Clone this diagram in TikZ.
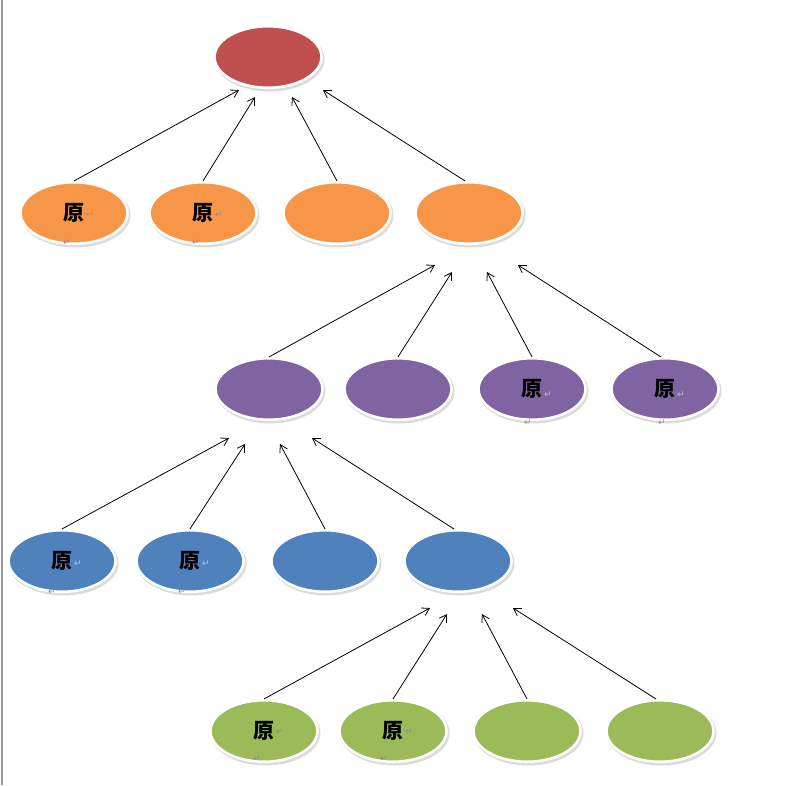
\documentclass[tikz,border=0pt]{standalone}
\usepackage{fontspec}
\newfontfamily\cjk{Noto Sans CJK SC}
\newfontfamily\symf{DejaVu Sans}
\usetikzlibrary{shapes.geometric,arrows.meta}
\definecolor{cred}{HTML}{C0504D}
\definecolor{corange}{HTML}{F79646}
\definecolor{cpurple}{HTML}{8064A2}
\definecolor{cblue}{HTML}{4F81BD}
\definecolor{cgreen}{HTML}{9BBB59}
\tikzset{
  oval/.style={ellipse, draw=white, line width=2.6pt, minimum width=107pt, minimum height=61.5pt, inner sep=0pt,
    font=\cjk\bfseries\fontsize{21}{21}\selectfont, text=black},
  shade/.style={ellipse, fill=black!14, minimum width=110pt, minimum height=65pt, inner sep=0pt, draw=none},
  ret/.style={font=\symf\fontsize{9}{9}\selectfont, text=black!45, inner sep=0pt},
  link/.style={-{Straight Barb[length=7pt,width=8.5pt]}, line width=0.8pt, black}
}
\begin{document}
\begin{tikzpicture}[x=1pt,y=-1pt]
\useasboundingbox (0,0) rectangle (797,785);
\fill[white] (0,0) rectangle (797,785);
\draw[black!40, line width=2pt] (1.5,0) -- (1.5,785);
% shadows
\foreach \x/\y in {268/57, 74/213,203/213,337/213,469/213, 269/389,398/389,532/389,665/389, 62/561,190/561,325/561,458/561, 264/731,393/731,527/731,660/731}
  \node[shade] at (\x+1.5,\y+2) {};
% ellipses
\node[oval, fill=cred] (r) at (268,57) {};
\node[oval, fill=corange] (o1) at (74,213) {原};
\node[oval, fill=corange] (o2) at (203,213) {原};
\node[oval, fill=corange] (o3) at (337,213) {};
\node[oval, fill=corange] (o4) at (469,213) {};
\node[oval, fill=cpurple] (p1) at (269,389) {};
\node[oval, fill=cpurple] (p2) at (398,389) {};
\node[oval, fill=cpurple] (p3) at (532,389) {原};
\node[oval, fill=cpurple] (p4) at (665,389) {原};
\node[oval, fill=cblue] (b1) at (62,561) {原};
\node[oval, fill=cblue] (b2) at (190,561) {原};
\node[oval, fill=cblue] (b3) at (325,561) {};
\node[oval, fill=cblue] (b4) at (458,561) {};
\node[oval, fill=cgreen] (g1) at (264,731) {原};
\node[oval, fill=cgreen] (g2) at (393,731) {原};
\node[oval, fill=cgreen] (g3) at (527,731) {};
\node[oval, fill=cgreen] (g4) at (660,731) {};
% paragraph marks
\node[ret] (ro1a) at (90,215) {↵};
\node[ret] (ro1b) at (67,243) {↵};
\node[ret] (ro2a) at (219,215) {↵};
\node[ret] (ro2b) at (196,243) {↵};
\node[ret, text=black!25] (rp3a) at (548,395) {↵};
\node[ret] (rp3b) at (528,423) {↵};
\node[ret, text=black!25] (rp4a) at (681,395) {↵};
\node[ret] (rp4b) at (662,423) {↵};
\node[ret, text=black!25] (rb1a) at (78,564) {↵};
\node[ret] (rb1b) at (52,592) {↵};
\node[ret, text=black!25] (rb2a) at (206,564) {↵};
\node[ret] (rb2b) at (182,592) {↵};
\node[ret] (rg1a) at (280,732) {↵};
\node[ret] (rg1b) at (257,759) {↵};
\node[ret] (rg2a) at (409,732) {↵};
\node[ret] (rg2b) at (384,759) {↵};
% arrow targets
\coordinate (tr1) at (239,90);
\coordinate (tr2) at (255,97);
\coordinate (tr3) at (292,97);
\coordinate (tr4) at (323,90);
\coordinate (to1) at (435,265);
\coordinate (to2) at (452,272);
\coordinate (to3) at (487,272);
\coordinate (to4) at (518,265);
\coordinate (tp1) at (229,438);
\coordinate (tp2) at (245,444);
\coordinate (tp3) at (280,444);
\coordinate (tp4) at (312,438);
\coordinate (tb1) at (430,608);
\coordinate (tb2) at (447,614);
\coordinate (tb3) at (482,614);
\coordinate (tb4) at (513,608);
% arrows
\draw[link] (o1.north) -- (tr1);
\draw[link] (o2.north) -- (tr2);
\draw[link] (o3.north) -- (tr3);
\draw[link] (o4.97) -- (tr4);
\draw[link] (p1.north) -- (to1);
\draw[link] (p2.north) -- (to2);
\draw[link] (p3.north) -- (to3);
\draw[link] (p4.97) -- (to4);
\draw[link] (b1.north) -- (tp1);
\draw[link] (b2.north) -- (tp2);
\draw[link] (b3.north) -- (tp3);
\draw[link] (b4.97) -- (tp4);
\draw[link] (g1.north) -- (tb1);
\draw[link] (g2.north) -- (tb2);
\draw[link] (g3.north) -- (tb3);
\draw[link] (g4.97) -- (tb4);
\end{tikzpicture}
\end{document}
